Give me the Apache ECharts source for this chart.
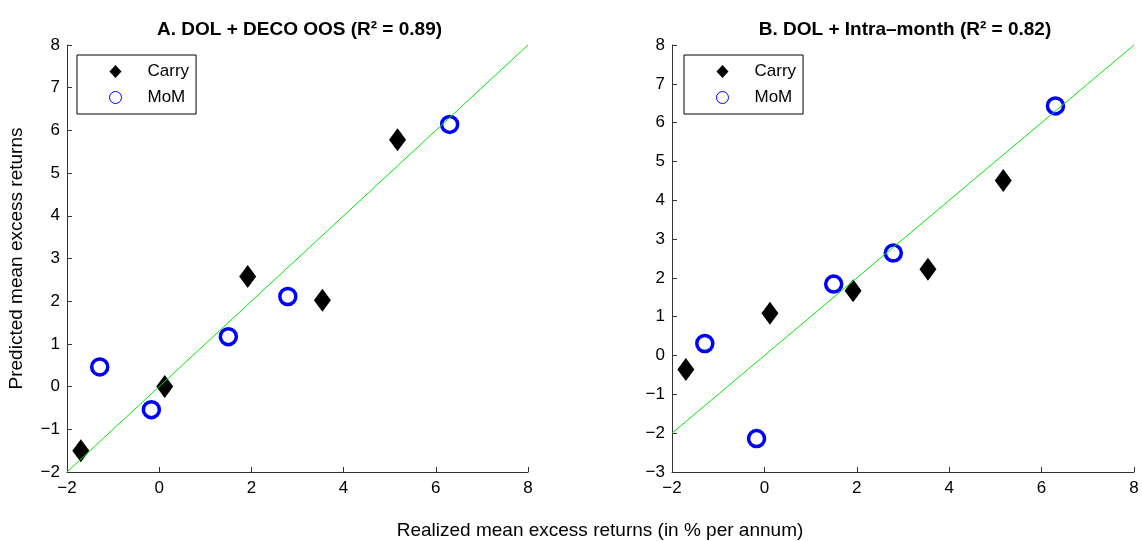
<!DOCTYPE html>
<html>
<head>
<meta charset="utf-8">
<script src="https://cdn.jsdelivr.net/npm/echarts@6/dist/echarts.min.js"></script>
<style>
    html, body { margin: 0; padding: 0; background: #fff; }
    #chart { width: 1142px; height: 541px; }
</style>
</head>
<body>
<div id="chart"></div>
<script>
// realized returns (x), shared by both panels
var carryRealized = [-1.70, 0.12, 1.92, 3.54, 5.17];
var momRealized = [-1.29, -0.17, 1.50, 2.79, 6.30];

// panel A: DOL + DECO OOS
var carryPredA = [-1.50, 0.00, 2.58, 2.02, 5.78];
var momPredA = [0.46, -0.54, 1.17, 2.11, 6.14];

// panel B: DOL + Intra-month
var carryPredB = [-0.36, 1.09, 1.67, 2.22, 4.51];
var momPredB = [0.31, -2.14, 1.84, 2.64, 6.43];

// 45 degree line end points
var diagonal = [-2, 8];

var titles = ['A. DOL + DECO OOS (R\u00b2 = 0.89)', 'B. DOL + Intra\u2013month (R\u00b2 = 0.82)'];
var yRanges = [[-2, 8], [-3, 8]];

(function () {
    'use strict';
    var FONT = '"Liberation Sans", Arial, sans-serif';
    var chart = echarts.init(document.getElementById('chart'), null, {renderer: 'canvas'});

    function zip(xs, ys) {
        return xs.map(function (x, i) { return [x, ys[i]]; });
    }
    function minus(v) {
        return String(v).replace('-', '\u2212');
    }

    var axisCommon = {
        axisLine: {onZero: false, lineStyle: {color: '#333', width: 1}},
        axisTick: {inside: true, length: 5, lineStyle: {color: '#333'}},
        axisLabel: {color: '#000', fontSize: 17, fontFamily: FONT, formatter: minus},
        splitLine: {show: false}
    };

    var grids = [
        {left: 67, top: 45, width: 461, height: 427},
        {left: 672, top: 45, width: 462, height: 427}
    ];

    var xAxes = [0, 1].map(function (i) {
        return echarts.util.merge({
            type: 'value', gridIndex: i, min: -2, max: 8, interval: 2,
            axisLabel: {margin: 8}
        }, axisCommon, false);
    });

    var yAxes = [0, 1].map(function (i) {
        return echarts.util.merge({
            type: 'value', gridIndex: i, min: yRanges[i][0], max: yRanges[i][1], interval: 1,
            axisLabel: {margin: 7},
            name: i === 0 ? 'Predicted mean excess returns' : '',
            nameLocation: 'middle', nameGap: 41,
            nameTextStyle: {color: '#000', fontSize: 19, fontFamily: FONT}
        }, axisCommon, false);
    });

    var preds = [[carryPredA, momPredA], [carryPredB, momPredB]];
    var series = [];
    [0, 1].forEach(function (i) {
        series.push({
            type: 'line', xAxisIndex: i, yAxisIndex: i,
            data: zip(diagonal, diagonal), symbol: 'none', silent: true,
            lineStyle: {color: '#00e600', width: 1}
        });
        series.push({
            name: 'Carry', type: 'scatter', xAxisIndex: i, yAxisIndex: i,
            data: zip(carryRealized, preds[i][0]),
            symbol: 'diamond', symbolSize: [17, 23],
            itemStyle: {color: '#000', opacity: 1}, emphasis: {disabled: true}
        });
        series.push({
            name: 'MoM', type: 'scatter', xAxisIndex: i, yAxisIndex: i,
            data: zip(momRealized, preds[i][1]),
            symbol: 'circle', symbolSize: 16,
            itemStyle: {color: 'rgba(0,0,0,0)', borderColor: '#0000ff', borderWidth: 3.5, opacity: 1},
            emphasis: {disabled: true}
        });
    });

    var legendLeft = [77, 684];
    var legends = legendLeft.map(function (l) {
        return {
            orient: 'vertical', left: l, top: 55,
            itemWidth: 12, itemHeight: 13, itemGap: 9,
            padding: [8, 7, 8, 32],
            borderColor: '#000', borderWidth: 1, backgroundColor: '#fff',
            selectedMode: false,
            textStyle: {color: '#000', fontSize: 17, fontFamily: FONT, padding: [0, 0, 0, 21]},
            data: [
                {name: 'Carry', icon: 'diamond', itemStyle: {color: '#000', borderWidth: 0, opacity: 1}},
                {name: 'MoM', icon: 'circle', itemStyle: {color: 'rgba(0,0,0,0)', borderColor: '#0000ff', borderWidth: 1, opacity: 1}}
            ]
        };
    });

    var titleList = titles.map(function (t, i) {
        return {
            text: t, left: grids[i].left + grids[i].width / 2 - 3, top: 15, textAlign: 'center',
            textStyle: {color: '#000', fontSize: 19, fontWeight: 'bold', fontFamily: FONT}
        };
    });
    titleList.push({
        text: 'Realized mean excess returns (in % per annum)',
        left: 595, top: 516, textAlign: 'center',
        textStyle: {color: '#000', fontSize: 19, fontWeight: 'normal', fontFamily: FONT}
    });

    chart.setOption({
        animation: false,
        backgroundColor: '#fff',
        title: titleList,
        legend: legends,
        grid: grids,
        xAxis: xAxes,
        yAxis: yAxes,
        series: series
    });
})();
</script>
</body>
</html>
